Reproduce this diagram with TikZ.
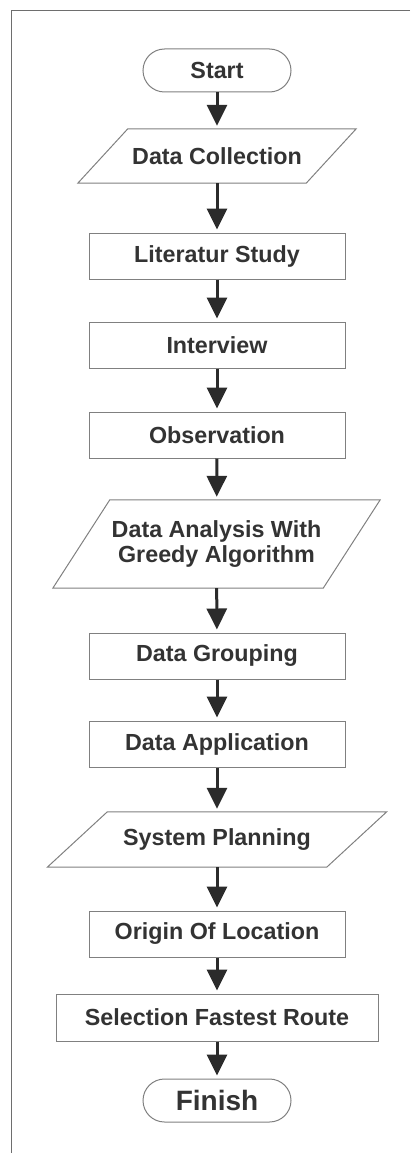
\documentclass[tikz,border=0pt]{standalone}
\usepackage{fontspec}
\setmainfont{Liberation Sans}
\usetikzlibrary{arrows.meta}
\definecolor{txt}{HTML}{333333}
\definecolor{edge}{HTML}{808080}
\definecolor{frm}{HTML}{6E6E6E}
\definecolor{arr}{HTML}{2B2B2B}
\begin{document}
\begin{tikzpicture}[x=1pt,y=-1pt,
  base/.style={inner sep=0pt, text=txt, font=\bfseries\fontsize{23.3}{24.5}\selectfont, align=center},
  procbox/.style={base, draw=edge, line width=1pt, minimum width=256pt, minimum height=46pt},
  termbox/.style={base, draw=edge, line width=1pt, minimum width=148pt, minimum height=43pt, rounded corners=21.5pt},
  iobox/.style={base},
  para/.style={draw=edge, line width=1pt},
  flow/.style={draw=arr, line width=3pt, -{Triangle[width=20pt,length=21pt]}, shorten >=3pt}
]
\useasboundingbox (0,0) rectangle (410,1153);
% frame
\draw[frm, line width=1.5pt] (410,10.5) -- (11.5,10.5) -- (11.5,1153);

\node[termbox] (start) at (217,70.5) {Start};
\node[iobox, minimum width=228pt, minimum height=54pt] (dc) at (217,156) {Data Collection};
\draw[para] ([xshift=25pt]dc.north west) -- ([xshift=25pt]dc.north east) -- ([xshift=-25pt]dc.south east) -- ([xshift=-25pt]dc.south west) -- cycle;
\node[procbox] (lit) at (217,256) {Literatur Study};
\node[procbox] (int) at (217,345) {Interview};
\node[procbox] (obs) at (217,435) {Observation};
\node[iobox, minimum width=270pt, minimum height=88pt] (da) at (216.5,544) {Data Analysis With\\Greedy Algorithm};
\draw[para] ([xshift=28.5pt]da.north west) -- ([xshift=28.5pt]da.north east) -- ([xshift=-28.5pt]da.south east) -- ([xshift=-28.5pt]da.south west) -- cycle;
\node[procbox] (dg) at (217,656) {Data Grouping};
\node[procbox] (dap) at (217,744) {Data Application};
\node[iobox, minimum width=279pt, minimum height=55pt] (sp) at (217,839.5) {System Planning};
\draw[para] ([xshift=30pt]sp.north west) -- ([xshift=30pt]sp.north east) -- ([xshift=-30pt]sp.south east) -- ([xshift=-30pt]sp.south west) -- cycle;
\node[procbox] (ool) at (217,934) {Origin Of Location};
\node[procbox, minimum width=322pt, minimum height=47pt] (sel) at (217,1017.5) {Selection Fastest Route};
\node[termbox, font=\bfseries\fontsize{28}{30}\selectfont] (fin) at (217,1100.5) {Finish};

\draw[flow] (start) -- (dc);
\draw[flow] (dc) -- (lit);
\draw[flow] (lit) -- (int);
\draw[flow] (int) -- (obs);
\draw[flow] (obs) -- (da);
\draw[flow] (da) -- (dg);
\draw[flow] (dg) -- (dap);
\draw[flow] (dap) -- (sp);
\draw[flow] (sp) -- (ool);
\draw[flow] (ool) -- (sel);
\draw[flow] (sel) -- (fin);
\end{tikzpicture}
\end{document}
